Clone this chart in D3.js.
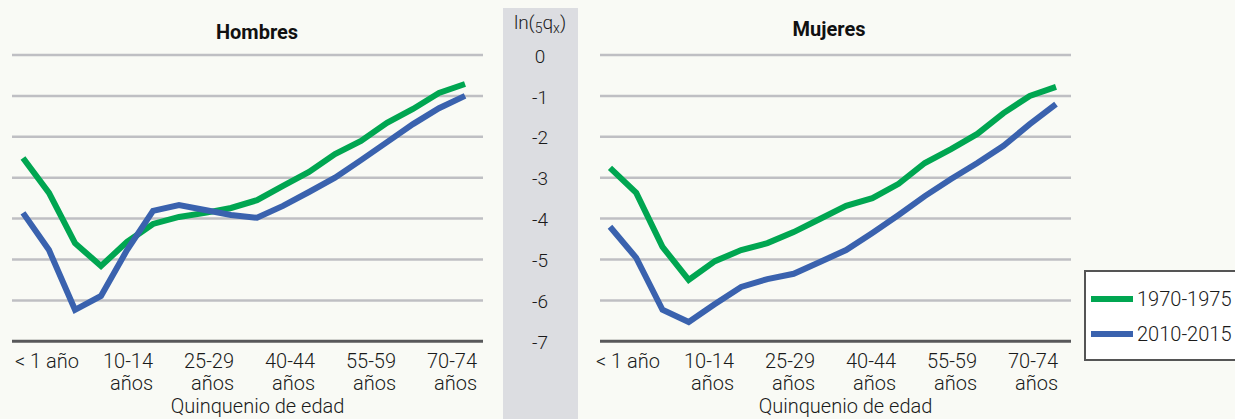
<!DOCTYPE html>
<html><head><meta charset="utf-8">
<script src="https://cdn.jsdelivr.net/npm/d3@7"></script>
<style>
html,body{margin:0;padding:0;background:#f9faf5;}
svg{display:block;font-family:Roboto,"Noto Sans",sans-serif;font-weight:300;}
</style></head>
<body>
<svg id="c" width="1235" height="419"></svg>
<script>
// ---- data ----
const ageGroups = ["< 1 año","1-4 años","5-9 años","10-14 años","15-19 años","20-24 años","25-29 años","30-34 años","35-39 años","40-44 años","45-49 años","50-54 años","55-59 años","60-64 años","65-69 años","70-74 años","75-79 años","80-84 años"];
const tickLabels = [["< 1 año"],["10-14","años"],["25-29","años"],["40-44","años"],["55-59","años"],["70-74","años"]];
const seriesNames = ["1970-1975","2010-2015"];
const hombres1970 = [-2.52,-3.37,-4.60,-5.16,-4.57,-4.13,-3.96,-3.86,-3.74,-3.55,-3.20,-2.86,-2.42,-2.10,-1.66,-1.32,-0.93,-0.71];
const hombres2010 = [-3.86,-4.77,-6.23,-5.89,-4.77,-3.81,-3.67,-3.79,-3.91,-3.98,-3.69,-3.35,-3.00,-2.57,-2.13,-1.69,-1.30,-1.00];
const mujeres1970 = [-2.76,-3.37,-4.69,-5.50,-5.04,-4.77,-4.60,-4.33,-4.01,-3.69,-3.50,-3.15,-2.64,-2.30,-1.93,-1.42,-1.00,-0.78];
const mujeres2010 = [-4.20,-4.96,-6.23,-6.53,-6.09,-5.67,-5.48,-5.35,-5.06,-4.77,-4.35,-3.91,-3.45,-3.03,-2.64,-2.22,-1.69,-1.20];
const yTicks = [0,-1,-2,-3,-4,-5,-6,-7];
const panelTitles = ["Hombres","Mujeres"];
const xTitle = "Quinquenio de edad";

// ---- layout ----
const svg = d3.select("#c");
const colors = ["#00a651","#3a62ae"];
const y = d3.scaleLinear().domain([-7,0]).range([341.3,55]);

const panels = [
  {title:panelTitles[0], data:[hombres1970,hombres2010], grid:[12,483], line:[23,465], lab:[47,452], titleX:257, titleY:39},
  {title:panelTitles[1], data:[mujeres1970,mujeres2010], grid:[600,1071], line:[610,1056], lab:[628,1033], titleX:829, titleY:36}
];

// central grey band
svg.append("rect").attr("x",503).attr("y",8).attr("width",75).attr("height",411).attr("fill","#dcdde1");

panels.forEach(p=>{
  const g = svg.append("g");
  // gridlines
  g.selectAll("line.grid").data(yTicks).join("line")
    .attr("x1",p.grid[0]).attr("x2",p.grid[1])
    .attr("y1",d=>y(d)).attr("y2",d=>y(d))
    .attr("stroke",d=>d===-7?"#58585a":"#bfbfc3")
    .attr("stroke-width",d=>d===-7?3:2.5);
  // title
  g.append("text").attr("x",p.titleX).attr("y",p.titleY).attr("text-anchor","middle")
    .attr("font-weight","bold").attr("font-size",20).attr("fill","#111").text(p.title);
  // lines
  const x = d3.scalePoint().domain(ageGroups).range(p.line);
  const line = d3.line().x((d,i)=>x(ageGroups[i])).y(d=>y(d));
  p.data.forEach((s,k)=>{
    g.append("path").attr("d",line(s)).attr("fill","none")
      .attr("stroke",colors[k]).attr("stroke-width",6).attr("stroke-linejoin","miter");
  });
  // x labels
  const xl = d3.scalePoint().domain(tickLabels.map(t=>t.join(" "))).range(p.lab);
  tickLabels.forEach(t=>{
    const cx = xl(t.join(" "));
    const first = g.append("text").attr("x",cx).attr("y",368).attr("text-anchor","middle")
      .attr("font-size",20).attr("fill","#1a1a1a").text(t[0]);
    if(t.length>1){
      const w = first.node().getComputedTextLength();
      g.append("text").attr("x",cx+w/2).attr("y",390).attr("text-anchor","end")
        .attr("font-size",20).attr("fill","#1a1a1a").text(t[1]);
    }
  });
  g.append("text").attr("x",(p.grid[0]+p.grid[1])/2+10).attr("y",413).attr("text-anchor","middle")
    .attr("font-size",20).attr("fill","#1a1a1a").text(xTitle);
});

// y axis labels in center band
svg.selectAll("text.ytick").data(yTicks).join("text").attr("class","ytick")
  .attr("x",540).attr("y",d=>y(d)+1).attr("dy","0.35em").attr("text-anchor","middle")
  .attr("font-size",19).attr("fill","#1a1a1a").text(d=>d===0?"0":"-"+Math.abs(d));

const yl = svg.append("text").attr("x",540).attr("y",29).attr("text-anchor","middle").attr("font-size",19).attr("fill","#1a1a1a");
yl.append("tspan").text("ln(");
yl.append("tspan").attr("font-size",14).attr("dy",4).text("5");
yl.append("tspan").attr("dy",-4).text("q");
yl.append("tspan").attr("font-size",14).attr("dy",4).text("x");
yl.append("tspan").attr("dy",-4).text(")");

// legend
const lg = svg.append("g");
lg.append("rect").attr("x",1085).attr("y",271).attr("width",160).attr("height",89)
  .attr("fill","#ffffff").attr("stroke","#555").attr("stroke-width",2);
seriesNames.forEach((n,k)=>{
  const ly = 299 + k*35;
  lg.append("line").attr("x1",1091).attr("x2",1133).attr("y1",ly).attr("y2",ly)
    .attr("stroke",colors[k]).attr("stroke-width",6);
  lg.append("text").attr("x",1137).attr("y",ly).attr("dy","0.36em").attr("font-size",20)
    .attr("fill","#1a1a1a").text(n);
});
</script>
</body></html>
